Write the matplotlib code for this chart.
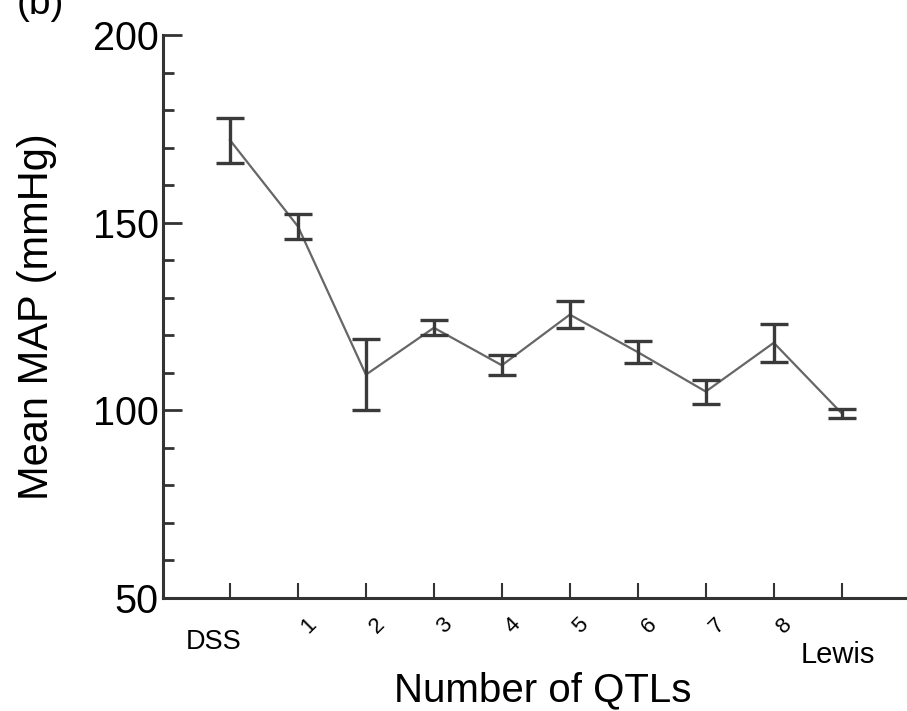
import numpy as np
import matplotlib.pyplot as plt
from matplotlib.ticker import MultipleLocator

# values
groups = ["DSS", "1", "2", "3", "4", "5", "6", "7", "8", "Lewis"]
mean_map = [172, 149, 109.5, 122, 112, 125.5, 115.5, 105, 118, 99.2]
sem_map = [6, 3.3, 9.5, 2, 2.7, 3.5, 3, 3.2, 5, 1.2]

plt.rcParams['font.family'] = ['Liberation Sans', 'DejaVu Sans']

fig = plt.figure(figsize=(9.07, 7.11), dpi=100)
ax = fig.add_axes([163 / 907, 113 / 711, (907 - 163) / 907, 563 / 711])

x = np.arange(len(groups))
ax.plot(x, mean_map, color='#666666', lw=1.6, zorder=2)
ax.errorbar(x, mean_map, yerr=sem_map, fmt='none', ecolor='#3a3a3a',
            elinewidth=2.4, capsize=10, capthick=2.4, zorder=3)

ax.set_xlim(-0.985, 9.96)
ax.set_ylim(50, 200)
ax.yaxis.set_minor_locator(MultipleLocator(10))
ax.set_yticks([50, 100, 150, 200])
ax.tick_params(axis='y', which='major', direction='in', length=14, width=2,
               color='#333333', labelsize=28.5, pad=3)
ax.tick_params(axis='y', which='minor', direction='in', length=8, width=2,
               color='#333333')

ax.set_xticks(x)
ax.set_xticklabels([])
ax.tick_params(axis='x', direction='in', length=11, width=1.5, color='#333333')

for s in ['top', 'right']:
    ax.spines[s].set_visible(False)
for s in ['left', 'bottom']:
    ax.spines[s].set_linewidth(2.2)
    ax.spines[s].set_color('#333333')

# category labels under the axis
for i, g in enumerate(groups):
    if g == "DSS":
        ax.annotate(g, (i, 0), xycoords=('data', 'axes fraction'),
                    xytext=(-12, -32), textcoords='offset points',
                    ha='center', va='center', fontsize=19.5)
    elif g == "Lewis":
        ax.annotate(g, (i, 0), xycoords=('data', 'axes fraction'),
                    xytext=(-3, -41), textcoords='offset points',
                    ha='center', va='center', fontsize=21)
    else:
        ax.annotate(g, (i, 0), xycoords=('data', 'axes fraction'),
                    xytext=(8, -20), textcoords='offset points',
                    ha='center', va='center', fontsize=16, rotation=45)

ax.set_ylabel("Mean MAP (mmHg)", fontsize=30, labelpad=26)
fig.text(543 / 907, 1 - 690 / 711, "Number of QTLs", ha='center', va='center',
         fontsize=29)
fig.text(40 / 907, 1 - 14 / 711, "(b)", ha='center', va='baseline', fontsize=28)

fig.savefig("out.png", dpi=100)
